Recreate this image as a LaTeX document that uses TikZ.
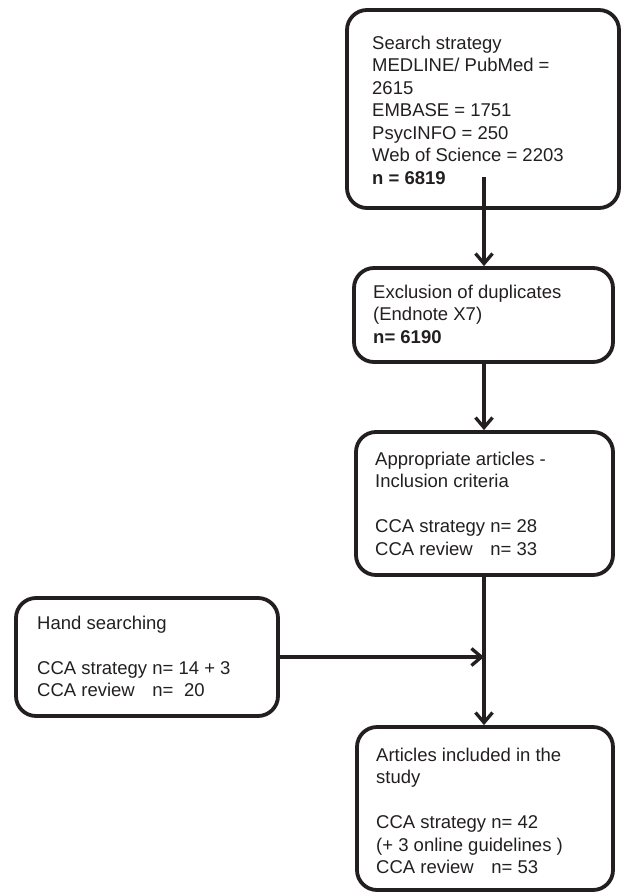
\documentclass[tikz,border=0pt]{standalone}
\usepackage{fontspec}
\setmainfont{Liberation Sans}
\usetikzlibrary{arrows.meta}
\definecolor{ink}{RGB}{35,31,32}
\begin{document}
\begin{tikzpicture}[x=1pt,y=-1pt,
  box/.style={draw=ink, line width=3.8pt, rounded corners=20pt, inner sep=0pt},
  txt/.style={anchor=north west, inner sep=0pt, align=left, text=ink, font=\fontsize{18.5}{22.5}\selectfont},
  conn/.style={draw=ink, line width=3.3pt, -{Straight Barb[length=10pt,width=17pt,line width=3.3pt]}}]
\useasboundingbox (0,0) rectangle (621,894);

% boxes
\node[box, minimum width=272pt, minimum height=198pt] (b1) at (483,109) {};
\node[box, minimum width=259pt, minimum height=94pt] (b2) at (483.5,315) {};
\node[box, minimum width=257pt, minimum height=143pt] (b3) at (484.5,503.5) {};
\node[box, minimum width=262pt, minimum height=118pt] (hs) at (147,657) {};
\node[box, minimum width=256pt, minimum height=163pt] (b4) at (485,808.5) {};

% texts
\node[txt] (t1) at (372,33.25) {\strut Search strategy\\MEDLINE/ PubMed =\\2615\\EMBASE = 1751\\PsycINFO = 250\\Web of Science = 2203\\\textbf{n = 6819}};
\node[txt] (t2) at (373,282.25) {\strut Exclusion of duplicates\\(Endnote X7)\\\textbf{n= 6190}};
\node[txt] (t3) at (375,449.25) {\strut Appropriate articles -\\Inclusion criteria\\[22.5pt]CCA strategy n= 28\\CCA review\hspace{0.95em}n= 33};
\node[txt] (th) at (37,613.25) {\strut Hand searching\\[22.5pt]CCA strategy n= 14 + 3\\CCA review\hspace{0.95em}n=\hspace{0.3em} 20};
\node[txt] (t4) at (376,745.25) {\strut Articles included in the\\study\\[22.5pt]CCA strategy n= 42\\(+ 3 online guidelines )\\CCA review\hspace{0.95em}n= 53};

% connectors
\coordinate (s) at (484,177);
\draw[conn] (s) -- (s |- b2.north);
\draw[conn] (b2.south -| s) -- (s |- b3.north);
\draw[conn] (b3.south -| s) -- (s |- b4.north);
\draw[conn] (hs.east) -- (hs.east -| s);
\end{tikzpicture}
\end{document}
